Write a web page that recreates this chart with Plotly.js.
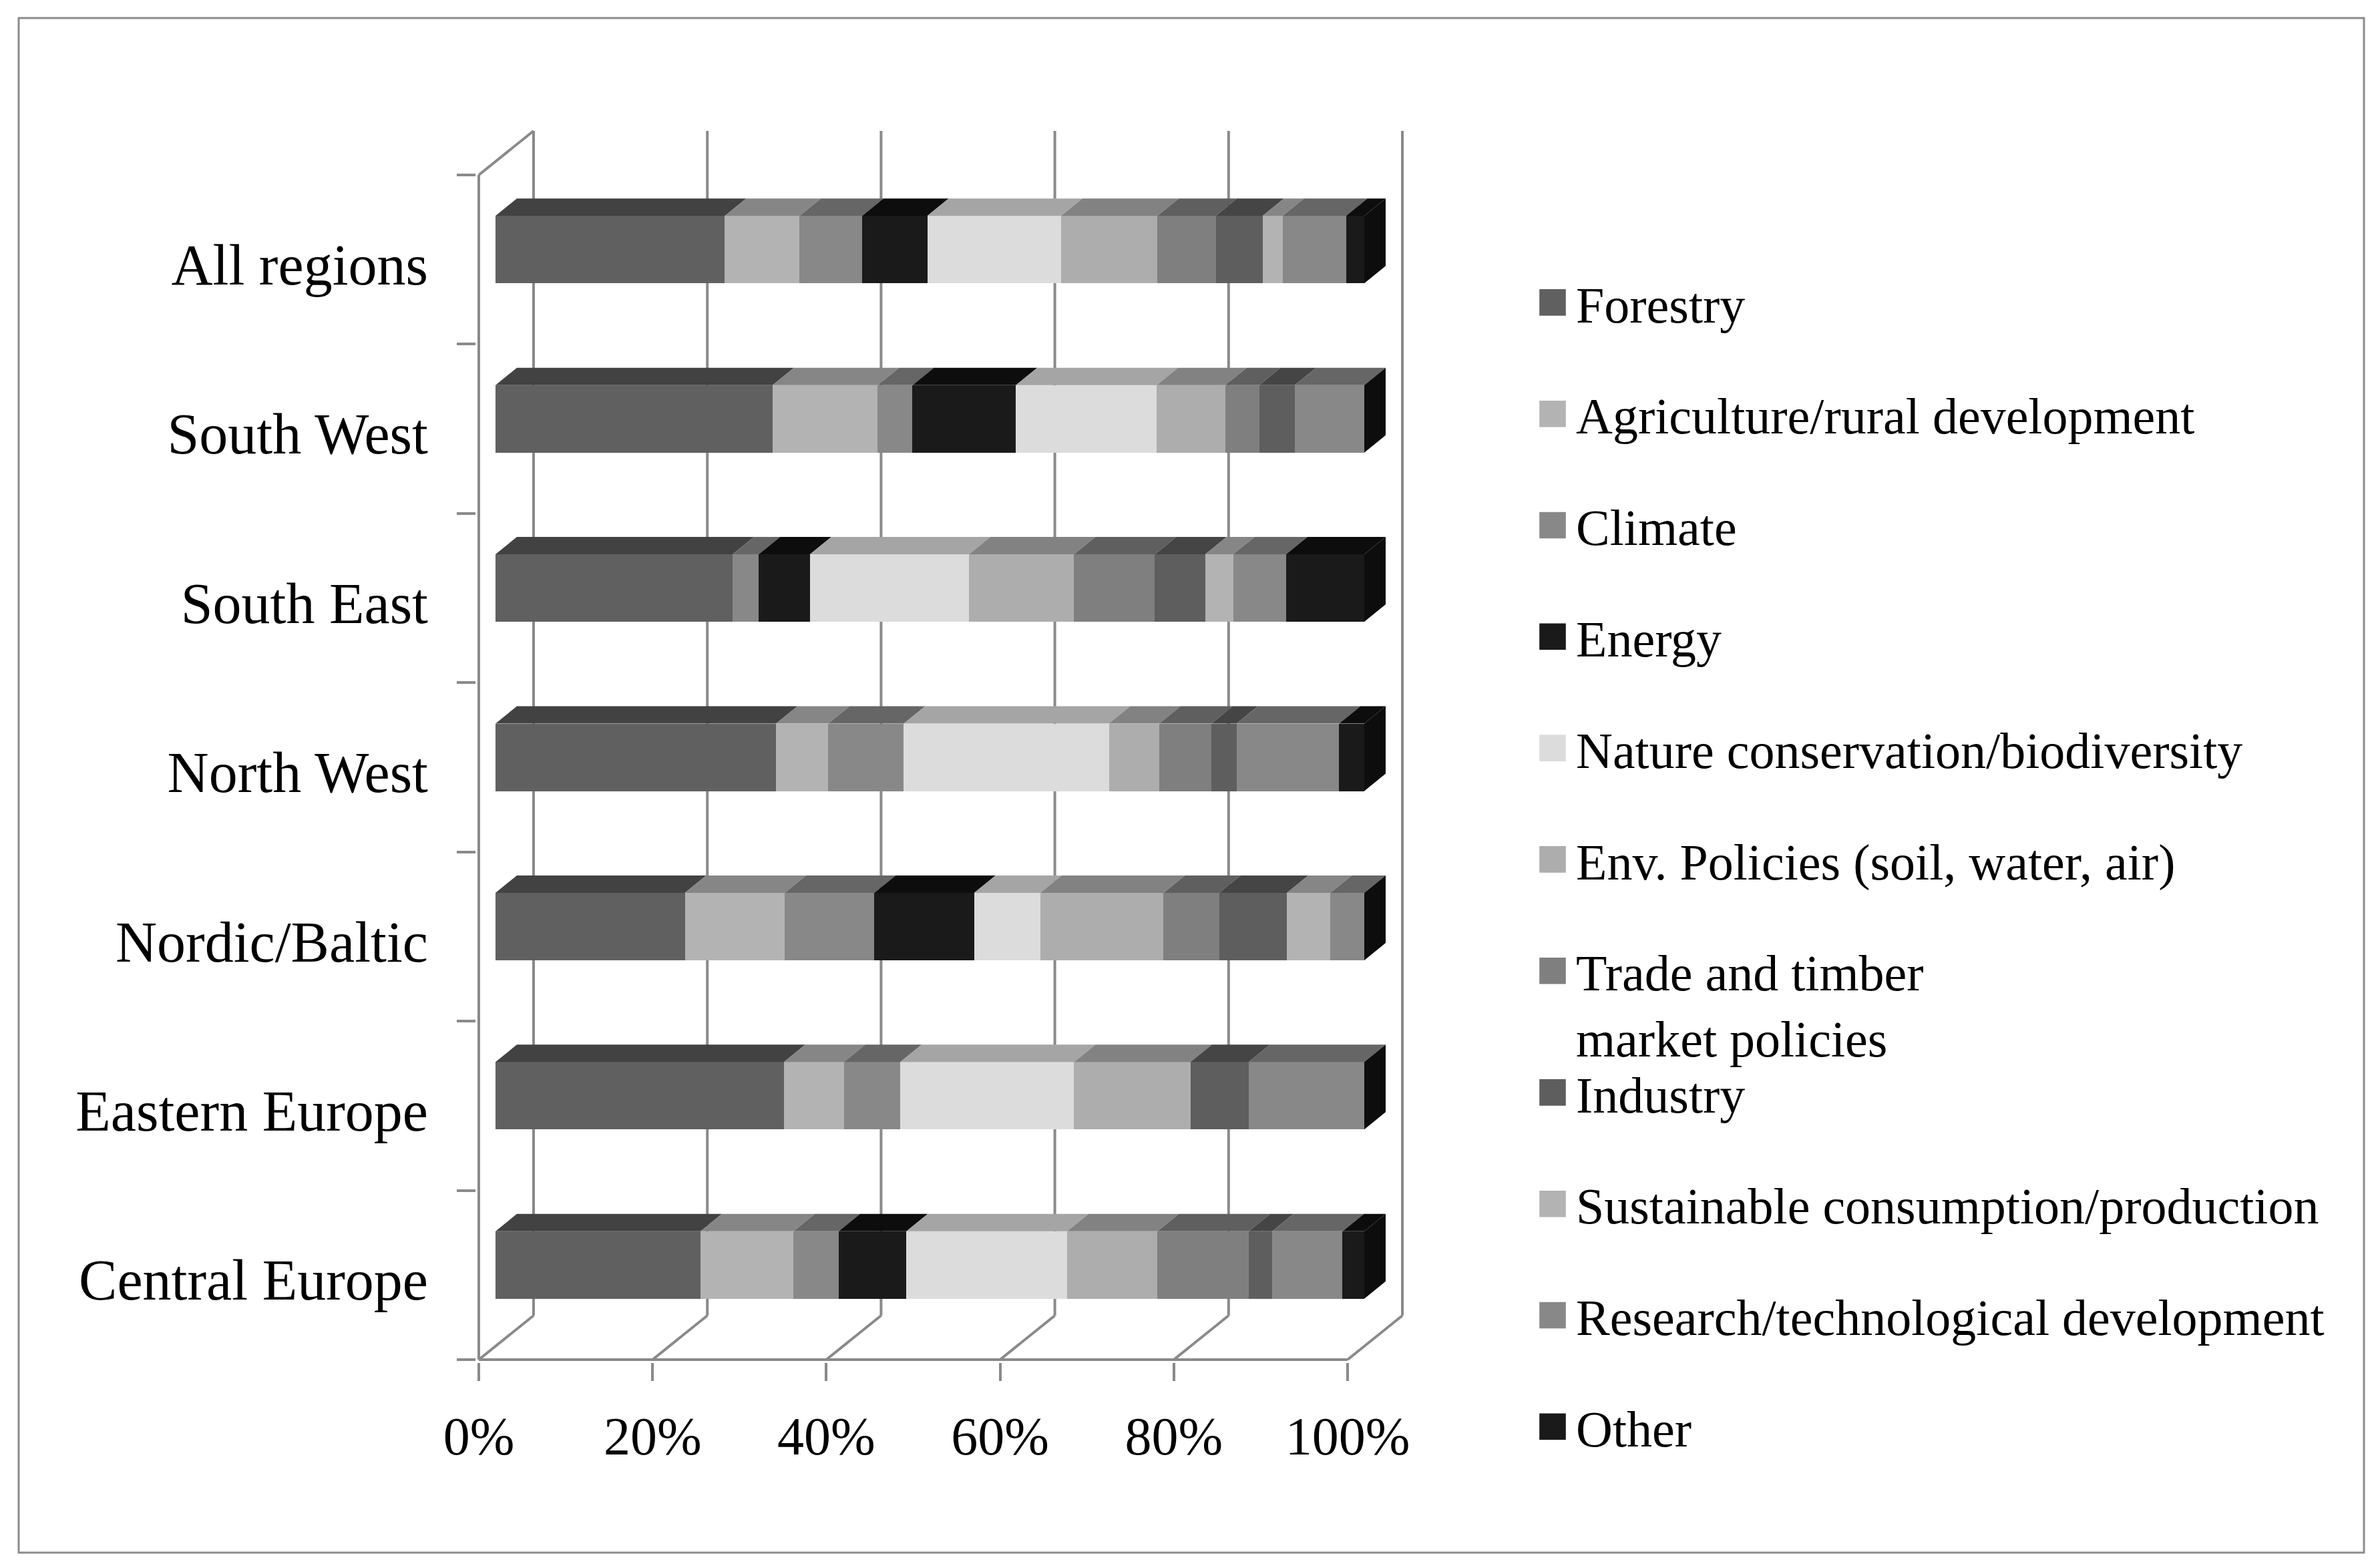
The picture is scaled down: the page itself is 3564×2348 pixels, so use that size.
<!DOCTYPE html>
<html>
<head>
<meta charset="utf-8">
<script src="https://cdn.plot.ly/plotly-3.0.1.min.js"></script>
<style>
html,body{margin:0;padding:0;background:#ffffff;}
#chart{width:3564px;height:2348px;}
</style>
</head>
<body>
<div id="chart"></div>
<script>
// ---------------- data ----------------
const regions = ['All regions','South West','South East','North West','Nordic/Baltic','Eastern Europe','Central Europe'];
const seriesNames = ['Forestry','Agriculture/rural development','Climate','Energy','Nature conservation/biodiversity',
  'Env. Policies (soil, water, air)','Trade and timber<br>market policies','Industry',
  'Sustainable consumption/production','Research/technological development','Other'];
const forestry    = [26.4, 31.9, 27.3, 32.3, 21.8, 33.2, 23.6];
const agriculture = [ 8.6, 12.1,  0.0,  6.0, 11.5,  6.9, 10.7];
const climate     = [ 7.2,  4.0,  3.0,  8.7, 10.3,  6.5,  5.2];
const energy      = [ 7.5, 11.9,  5.9,  0.0, 11.5,  0.0,  7.8];
const nature      = [15.4, 16.2, 18.3, 23.6,  7.6, 20.0, 18.5];
const envPolicies = [11.1,  7.9, 12.1,  5.8, 14.2, 13.4, 10.4];
const trade       = [ 6.7,  3.9,  9.3,  6.0,  6.4,  0.0, 10.5];
const industry    = [ 5.4,  4.1,  5.8,  2.9,  7.8,  6.7,  2.7];
const sustainable = [ 2.3,  0.0,  3.2,  0.0,  5.0,  0.0,  0.0];
const research    = [ 7.3,  8.0,  6.1, 11.8,  3.9, 13.3,  8.1];
const other       = [ 2.1,  0.0,  9.0,  2.9,  0.0,  0.0,  2.5];
const tickValues  = [0, 20, 40, 60, 80, 100];
const tickLabels  = ['0%', '20%', '40%', '60%', '80%', '100%'];

const seriesValues = [forestry, agriculture, climate, energy, nature, envPolicies, trade, industry, sustainable, research, other];
const frontColors = ['#606060','#b3b3b3','#888888','#1a1a1a','#dcdcdc','#adadad','#7f7f7f','#5e5e5e','#b3b3b3','#888888','#1a1a1a'];
const topColors   = ['#424242','#868686','#666666','#0d0d0d','#a5a5a5','#828282','#5f5f5f','#454545','#868686','#666666','#0d0d0d'];

// ---------------- geometry (pixels) ----------------
const W = 3564, H = 2348;
const FONT = 'Liberation Serif, Times New Roman, serif';
const GRID = '#8a8a8a';
const PX_PER_PCT = 13.01, ZERO_PX = 717;
const PLOT_L = 713, PLOT_R = 2115, PLOT_T = 190, PLOT_B = 2040;
const FRONT_TOP = 262, FRONT_BOT = 2036;
const CAT_PX = (FRONT_BOT - FRONT_TOP) / regions.length;
const xRange = [(PLOT_L - ZERO_PX) / PX_PER_PCT, (PLOT_R - ZERO_PX) / PX_PER_PCT];
const yRange = [-0.5 - (PLOT_B - FRONT_BOT) / CAT_PX, -0.5 + (FRONT_BOT - PLOT_T) / CAT_PX];
const DEPTH_X = 82 / PX_PER_PCT, DEPTH_Y = 66 / CAT_PX;      // floor depth
const BAR_SHIFT_X = 25 / PX_PER_PCT;                          // bar front face depth
const BAR_W = 101 / CAT_PX, BAR_LIFT = 15 / CAT_PX;
const BAR_OFF = BAR_LIFT - BAR_W / 2;
const BAR_DX = 32 / PX_PER_PCT, BAR_DY = 26 / CAT_PX;         // bar thickness

const catOrder = regions.slice().reverse();
const nTop = regions.length - 0.5;

// ---------------- traces ----------------
const traces = seriesNames.map((name, s) => ({
  type: 'bar', orientation: 'h', name: name,
  x: seriesValues[s], y: regions,
  xaxis: 'x2', yaxis: 'y',
  offset: BAR_OFF, width: BAR_W,
  marker: {color: frontColors[s], line: {width: 0}},
  legend: s < 7 ? 'legend' : 'legend2',
  legendgroup: 'g' + s,
  hoverinfo: 'x+y+name'
}));

// ---------------- 3D faces derived from data ----------------
const shapes = [];
regions.forEach((r, i) => {
  const ci = catOrder.indexOf(r);
  const yb = ci + BAR_OFF, yt = ci + BAR_OFF + BAR_W;
  let cum = 0;
  seriesValues.forEach((vals, s) => {
    const v = vals[i];
    if (v > 0) {
      const x0 = cum, x1 = cum + v;
      shapes.push({type: 'path', xref: 'x2', yref: 'y', layer: 'above',
        path: `M${x0},${yt} L${x1},${yt} L${x1 + BAR_DX},${yt + BAR_DY} L${x0 + BAR_DX},${yt + BAR_DY} Z`,
        fillcolor: topColors[s], line: {width: 0}});
    }
    cum += v;
  });
  shapes.push({type: 'path', xref: 'x2', yref: 'y', layer: 'above',
    path: `M${cum},${yb} L${cum},${yt} L${cum + BAR_DX},${yt + BAR_DY} L${cum + BAR_DX},${yb + BAR_DY} Z`,
    fillcolor: '#0d0d0d', line: {width: 0}});
});

// walls and floor lines
const gl = {color: GRID, width: 4};
tickValues.forEach(v => {
  shapes.push({type: 'line', xref: 'x', yref: 'y', layer: 'below',
    x0: v + DEPTH_X, x1: v + DEPTH_X, y0: -0.5 + DEPTH_Y, y1: nTop + DEPTH_Y, line: gl});
  shapes.push({type: 'line', xref: 'x', yref: 'y', layer: 'below',
    x0: v, x1: v + DEPTH_X, y0: -0.5, y1: -0.5 + DEPTH_Y, line: gl});
});
shapes.push({type: 'line', xref: 'x', yref: 'y', layer: 'below',
  x0: 0, x1: tickValues[tickValues.length - 1], y0: -0.5, y1: -0.5, line: gl});
shapes.push({type: 'line', xref: 'x', yref: 'y', layer: 'below',
  x0: 0, x1: 0, y0: -0.5, y1: nTop, line: gl});
shapes.push({type: 'line', xref: 'x', yref: 'y', layer: 'below',
  x0: 0, x1: DEPTH_X, y0: nTop, y1: nTop + DEPTH_Y, line: gl});

// outer frame
const pw = PLOT_R - PLOT_L, ph = PLOT_B - PLOT_T;
shapes.push({type: 'rect', xref: 'paper', yref: 'paper', layer: 'below',
  x0: (28 - PLOT_L) / pw, x1: (3540 - PLOT_L) / pw,
  y0: (PLOT_B - 2325) / ph, y1: (PLOT_B - 27) / ph,
  line: {color: '#8c8c8c', width: 3}, fillcolor: 'rgba(0,0,0,0)'});

const LEG_X = (2290 - PLOT_L) / pw;
const legendBase = {
  x: LEG_X, xanchor: 'left', yanchor: 'top',
  font: {family: FONT, size: 76, color: '#000'},
  itemwidth: 60, tracegroupgap: 65, traceorder: 'grouped',
  bgcolor: 'rgba(0,0,0,0)', borderwidth: 0, valign: 'top'
};

const layout = {
  width: W, height: H,
  margin: {l: PLOT_L, r: W - PLOT_R, t: PLOT_T, b: H - PLOT_B, pad: 0, autoexpand: false},
  paper_bgcolor: '#ffffff', plot_bgcolor: 'rgba(0,0,0,0)',
  barmode: 'stack', showlegend: true,
  font: {family: FONT, color: '#000'},
  xaxis: {range: xRange, tickmode: 'array', tickvals: tickValues, ticktext: tickLabels,
    ticks: 'outside', ticklen: 27, tickwidth: 4, tickcolor: GRID,
    showgrid: false, zeroline: false, showline: false,
    tickfont: {family: FONT, size: 80, color: '#000'}, ticklabelstandoff: 14, fixedrange: true},
  xaxis2: {overlaying: 'x', range: [xRange[0] - BAR_SHIFT_X, xRange[1] - BAR_SHIFT_X], visible: false, fixedrange: true},
  yaxis: {type: 'category', categoryorder: 'array', categoryarray: catOrder, range: yRange,
    tickson: 'boundaries', ticks: 'outside', ticklen: 28, tickwidth: 4, tickcolor: GRID,
    showgrid: false, zeroline: false, showline: false,
    tickfont: {family: FONT, size: 86, color: '#000'}, ticklabelstandoff: 71, ticklabelshift: 7, fixedrange: true},
  legend: Object.assign({}, legendBase, {y: (PLOT_B - 397) / ph}),
  legend2: Object.assign({}, legendBase, {y: (PLOT_B - 1580) / ph}),
  shapes: shapes
};

Plotly.newPlot('chart', traces, layout, {displayModeBar: false, responsive: false}).then(gd => {
  gd.querySelectorAll('.legendpoints path').forEach(p => {
    const t = p.getAttribute('transform') || '';
    p.setAttribute('transform', t + ' scale(3.3)');
  });
});
</script>
</body>
</html>
